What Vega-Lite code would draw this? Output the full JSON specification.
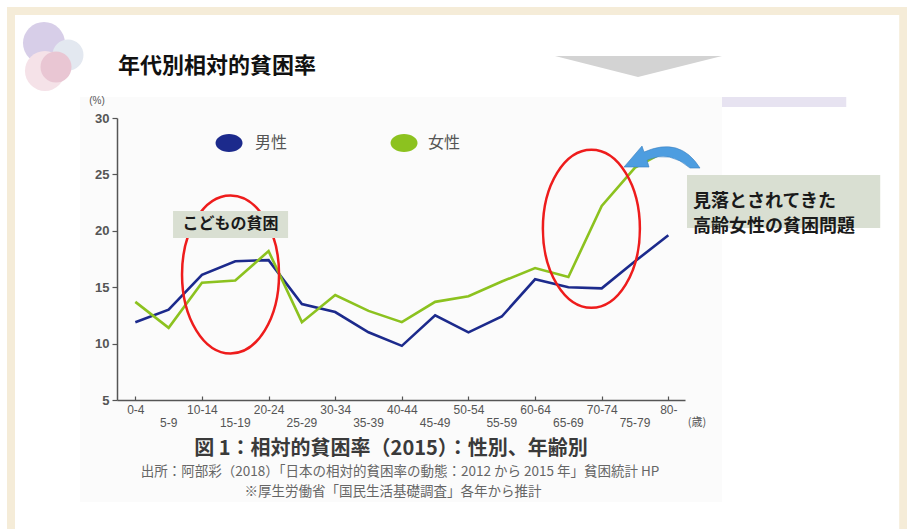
{
  "$schema": "https://vega.github.io/schema/vega-lite/v6.json",
  "width": 568,
  "height": 282,
  "autosize": {"type": "none"},
  "padding": {"left": 117, "top": 118, "right": 222, "bottom": 129},
  "background": "#ffffff",
  "config": {"view": {"stroke": null}, "font": "Noto Sans CJK JP"},
  "datasets": {
    "rates": [
      {"age": "0-4", "age_index": 0, "sex": "男性", "rate": 11.9},
      {"age": "5-9", "age_index": 1, "sex": "男性", "rate": 13.0},
      {"age": "10-14", "age_index": 2, "sex": "男性", "rate": 16.1},
      {"age": "15-19", "age_index": 3, "sex": "男性", "rate": 17.3},
      {"age": "20-24", "age_index": 4, "sex": "男性", "rate": 17.4},
      {"age": "25-29", "age_index": 5, "sex": "男性", "rate": 13.5},
      {"age": "30-34", "age_index": 6, "sex": "男性", "rate": 12.8},
      {"age": "35-39", "age_index": 7, "sex": "男性", "rate": 11.0},
      {"age": "40-44", "age_index": 8, "sex": "男性", "rate": 9.8},
      {"age": "45-49", "age_index": 9, "sex": "男性", "rate": 12.5},
      {"age": "50-54", "age_index": 10, "sex": "男性", "rate": 11.0},
      {"age": "55-59", "age_index": 11, "sex": "男性", "rate": 12.4},
      {"age": "60-64", "age_index": 12, "sex": "男性", "rate": 15.7},
      {"age": "65-69", "age_index": 13, "sex": "男性", "rate": 15.0},
      {"age": "70-74", "age_index": 14, "sex": "男性", "rate": 14.9},
      {"age": "75-79", "age_index": 15, "sex": "男性", "rate": 17.3},
      {"age": "80-", "age_index": 16, "sex": "男性", "rate": 19.6},
      {"age": "0-4", "age_index": 0, "sex": "女性", "rate": 13.7},
      {"age": "5-9", "age_index": 1, "sex": "女性", "rate": 11.4},
      {"age": "10-14", "age_index": 2, "sex": "女性", "rate": 15.4},
      {"age": "15-19", "age_index": 3, "sex": "女性", "rate": 15.6},
      {"age": "20-24", "age_index": 4, "sex": "女性", "rate": 18.2},
      {"age": "25-29", "age_index": 5, "sex": "女性", "rate": 11.9},
      {"age": "30-34", "age_index": 6, "sex": "女性", "rate": 14.3},
      {"age": "35-39", "age_index": 7, "sex": "女性", "rate": 12.9},
      {"age": "40-44", "age_index": 8, "sex": "女性", "rate": 11.9},
      {"age": "45-49", "age_index": 9, "sex": "女性", "rate": 13.7},
      {"age": "50-54", "age_index": 10, "sex": "女性", "rate": 14.2},
      {"age": "55-59", "age_index": 11, "sex": "女性", "rate": 15.5},
      {"age": "60-64", "age_index": 12, "sex": "女性", "rate": 16.7},
      {"age": "65-69", "age_index": 13, "sex": "女性", "rate": 15.9},
      {"age": "70-74", "age_index": 14, "sex": "女性", "rate": 22.2},
      {"age": "75-79", "age_index": 15, "sex": "女性", "rate": 25.6},
      {"age": "80-", "age_index": 16, "sex": "女性", "rate": 27.2}
    ],
    "legend": [
      {"sex": "男性", "x": 2.813, "tx": 3.594, "y": 27.78},
      {"sex": "女性", "x": 8.066, "tx": 8.788, "y": 27.78}
    ]
  },
  "layer": [
    {
      "data": {"values": [{"x": -3.852, "x2": 24, "y": 39.84, "y2": -8}]},
      "mark": {"type": "rect", "fill": "#f5ecd8"},
      "encoding": {
        "x": {"field": "x", "type": "quantitative", "title": null, "scale": {"domain": [-0.55, 16.5], "nice": false, "zero": false}},
        "x2": {"field": "x2"},
        "y": {"field": "y", "type": "quantitative", "title": null, "scale": {"domain": [5, 30], "nice": false, "zero": false}},
        "y2": {"field": "y2"}
      }
    },
    {
      "data": {"values": [{"x": -3.612, "x2": 22.93, "y": 39.13, "y2": -8}]},
      "mark": {"type": "rect", "fill": "#ffffff"},
      "encoding": {
        "x": {"field": "x", "type": "quantitative", "title": null, "scale": {"domain": [-0.55, 16.5], "nice": false, "zero": false}},
        "x2": {"field": "x2"},
        "y": {"field": "y", "type": "quantitative", "title": null, "scale": {"domain": [5, 30], "nice": false, "zero": false}},
        "y2": {"field": "y2"}
      }
    },
    {
      "data": {"values": [{"x": -1.66, "x2": 17.61, "y": 31.86, "y2": -4.04}]},
      "mark": {"type": "rect", "fill": "#fbfbfb"},
      "encoding": {
        "x": {"field": "x", "type": "quantitative", "title": null, "scale": {"domain": [-0.55, 16.5], "nice": false, "zero": false}},
        "x2": {"field": "x2"},
        "y": {"field": "y", "type": "quantitative", "title": null, "scale": {"domain": [5, 30], "nice": false, "zero": false}},
        "y2": {"field": "y2"}
      }
    },
    {
      "data": {"values": [{"x": 17.61, "x2": 21.34, "y": 31.86, "y2": 30.98}]},
      "mark": {"type": "rect", "fill": "#e7e3f1"},
      "encoding": {
        "x": {"field": "x", "type": "quantitative", "title": null, "scale": {"domain": [-0.55, 16.5], "nice": false, "zero": false}},
        "x2": {"field": "x2"},
        "y": {"field": "y", "type": "quantitative", "title": null, "scale": {"domain": [5, 30], "nice": false, "zero": false}},
        "y2": {"field": "y2"}
      }
    },
    {
      "data": {"values": [{"x": 15.09, "y": 34.96}]},
      "mark": {"type": "point", "shape": "M -83 -6 L 84 -6 L 0 15 Z", "size": 4, "filled": true, "fill": "#d3d3d3", "opacity": 1, "strokeWidth": 0},
      "encoding": {
        "x": {"field": "x", "type": "quantitative", "title": null, "scale": {"domain": [-0.55, 16.5], "nice": false, "zero": false}},
        "y": {"field": "y", "type": "quantitative", "title": null, "scale": {"domain": [5, 30], "nice": false, "zero": false}}
      }
    },
    {
      "data": {"values": [{"x": -2.742, "y": 36.65}]},
      "mark": {"type": "point", "shape": "circle", "size": 1764, "filled": true, "fill": "#d7cee8", "opacity": 1, "strokeWidth": 0},
      "encoding": {
        "x": {"field": "x", "type": "quantitative", "title": null, "scale": {"domain": [-0.55, 16.5], "nice": false, "zero": false}},
        "y": {"field": "y", "type": "quantitative", "title": null, "scale": {"domain": [5, 30], "nice": false, "zero": false}}
      }
    },
    {
      "data": {"values": [{"x": -2.021, "y": 35.59}]},
      "mark": {"type": "point", "shape": "circle", "size": 961, "filled": true, "fill": "#e3e8f0", "opacity": 1, "strokeWidth": 0},
      "encoding": {
        "x": {"field": "x", "type": "quantitative", "title": null, "scale": {"domain": [-0.55, 16.5], "nice": false, "zero": false}},
        "y": {"field": "y", "type": "quantitative", "title": null, "scale": {"domain": [5, 30], "nice": false, "zero": false}}
      }
    },
    {
      "data": {"values": [{"x": -2.712, "y": 34.17}]},
      "mark": {"type": "point", "shape": "circle", "size": 1600, "filled": true, "fill": "#f5e2e8", "opacity": 1, "strokeWidth": 0},
      "encoding": {
        "x": {"field": "x", "type": "quantitative", "title": null, "scale": {"domain": [-0.55, 16.5], "nice": false, "zero": false}},
        "y": {"field": "y", "type": "quantitative", "title": null, "scale": {"domain": [5, 30], "nice": false, "zero": false}}
      }
    },
    {
      "data": {"values": [{"x": -2.381, "y": 34.52}]},
      "mark": {"type": "point", "shape": "circle", "size": 961, "filled": true, "fill": "#e9c6d3", "opacity": 1, "strokeWidth": 0},
      "encoding": {
        "x": {"field": "x", "type": "quantitative", "title": null, "scale": {"domain": [-0.55, 16.5], "nice": false, "zero": false}},
        "y": {"field": "y", "type": "quantitative", "title": null, "scale": {"domain": [5, 30], "nice": false, "zero": false}}
      }
    },
    {
      "data": {"values": [{"x": -0.52, "y": 34.61, "text": "年代別相対的貧困率"}]},
      "mark": {"type": "text", "align": "left", "baseline": "middle", "fontSize": 22, "fontWeight": "bold", "color": "#111111", "font": "Noto Sans CJK JP"},
      "encoding": {
        "x": {"field": "x", "type": "quantitative", "title": null, "scale": {"domain": [-0.55, 16.5], "nice": false, "zero": false}},
        "y": {"field": "y", "type": "quantitative", "title": null, "scale": {"domain": [5, 30], "nice": false, "zero": false}},
        "text": {"field": "text"}
      }
    },
    {
      "data": {"values": [{"x": -1.149, "y": 31.51, "text": "(%)"}]},
      "mark": {"type": "text", "align": "center", "baseline": "middle", "fontSize": 10, "color": "#555555", "font": "Liberation Sans"},
      "encoding": {
        "x": {"field": "x", "type": "quantitative", "title": null, "scale": {"domain": [-0.55, 16.5], "nice": false, "zero": false}},
        "y": {"field": "y", "type": "quantitative", "title": null, "scale": {"domain": [5, 30], "nice": false, "zero": false}},
        "text": {"field": "text"}
      }
    },
    {
      "data": {"name": "rates"},
      "mark": {"type": "line", "strokeWidth": 2.6},
      "encoding": {
        "x": {
          "field": "age_index", "type": "quantitative", "title": null,
          "scale": {"domain": [-0.55, 16.5], "nice": false, "zero": false},
          "axis": {
            "title": null, "grid": false, "zindex": 1,
            "values": [0, 1, 2, 3, 4, 5, 6, 7, 8, 9, 10, 11, 12, 13, 14, 15, 16],
            "labelExpr": "datum.value % 2 == 0 ? ['0-4','5-9','10-14','15-19','20-24','25-29','30-34','35-39','40-44','45-49','50-54','55-59','60-64','65-69','70-74','75-79','80-'][datum.value] : ''",
            "domainColor": "#555555", "domainWidth": 1.5,
            "tickColor": "#555555", "tickSize": -4, "tickWidth": 1.2,
            "labelColor": "#555555", "labelFontSize": 12, "labelFont": "Liberation Sans",
            "labelPadding": 8, "labelBaseline": "top",
            "labelFlush": false, "labelOverlap": false, "labelBound": false
          }
        },
        "y": {
          "field": "rate", "type": "quantitative", "title": null,
          "scale": {"domain": [5, 30], "nice": false, "zero": false},
          "axis": {
            "title": null, "grid": false, "zindex": 1, "values": [5, 10, 15, 20, 25, 30],
            "domainColor": "#555555", "domainWidth": 1.5,
            "tickColor": "#555555", "tickSize": 5, "tickWidth": 1.2,
            "labelColor": "#555555", "labelFontSize": 13, "labelFont": "Liberation Sans",
            "labelFontWeight": "bold", "labelPadding": 3
          }
        },
        "color": {"field": "sex", "type": "nominal", "scale": {"domain": ["男性", "女性"], "range": ["#1c2a8c", "#8cc21f"]}, "legend": null},
        "detail": {"field": "sex"}
      }
    },
    {
      "data": {"name": "rates"},
      "transform": [{"filter": "datum.sex == '男性' && datum.age_index % 2 == 1"}],
      "mark": {"type": "text", "align": "center", "baseline": "middle", "fontSize": 12, "color": "#555555", "font": "Liberation Sans"},
      "encoding": {
        "x": {"field": "age_index", "type": "quantitative", "title": null, "scale": {"domain": [-0.55, 16.5], "nice": false, "zero": false}},
        "y": {"datum": 3.0, "type": "quantitative", "title": null, "scale": {"domain": [5, 30], "nice": false, "zero": false}},
        "text": {"field": "age"}
      }
    },
    {
      "data": {"values": [{"x": 2.858, "y": 16.13}, {"x": 13.69, "y": 20.18}]},
      "mark": {"type": "point", "shape": "M 0.614 0 C 0.614 0.552 0.339 1 0 1 C -0.339 1 -0.614 0.552 -0.614 0 C -0.614 -0.552 -0.339 -1 0 -1 C 0.339 -1 0.614 -0.552 0.614 0 Z", "size": 24964, "filled": false, "stroke": "#ee1c1c", "strokeWidth": 2.5, "opacity": 1},
      "encoding": {
        "x": {"field": "x", "type": "quantitative", "title": null, "scale": {"domain": [-0.55, 16.5], "nice": false, "zero": false}},
        "y": {"field": "y", "type": "quantitative", "title": null, "scale": {"domain": [5, 30], "nice": false, "zero": false}}
      }
    },
    {
      "data": {"name": "legend"},
      "mark": {"type": "point", "shape": "M 1 0 C 1 0.368 0.552 0.667 0 0.667 C -0.552 0.667 -1 0.368 -1 0 C -1 -0.368 -0.552 -0.667 0 -0.667 C 0.552 -0.667 1 -0.368 1 0 Z", "size": 729, "filled": true, "opacity": 1, "strokeWidth": 0},
      "encoding": {
        "x": {"field": "x", "type": "quantitative", "title": null, "scale": {"domain": [-0.55, 16.5], "nice": false, "zero": false}},
        "y": {"field": "y", "type": "quantitative", "title": null, "scale": {"domain": [5, 30], "nice": false, "zero": false}},
        "color": {"field": "sex", "type": "nominal", "scale": {"domain": ["男性", "女性"], "range": ["#1c2a8c", "#8cc21f"]}, "legend": null}
      }
    },
    {
      "data": {"name": "legend"},
      "mark": {"type": "text", "align": "left", "baseline": "middle", "fontSize": 16, "color": "#555555", "font": "Noto Sans CJK JP"},
      "encoding": {
        "x": {"field": "tx", "type": "quantitative", "title": null, "scale": {"domain": [-0.55, 16.5], "nice": false, "zero": false}},
        "y": {"field": "y", "type": "quantitative", "title": null, "scale": {"domain": [5, 30], "nice": false, "zero": false}},
        "text": {"field": "sex"}
      }
    },
    {
      "data": {"values": [{"x": 1.132, "x2": 4.585, "y": 21.76, "y2": 19.36}]},
      "mark": {"type": "rect", "fill": "#d9dfd2"},
      "encoding": {
        "x": {"field": "x", "type": "quantitative", "title": null, "scale": {"domain": [-0.55, 16.5], "nice": false, "zero": false}},
        "x2": {"field": "x2"},
        "y": {"field": "y", "type": "quantitative", "title": null, "scale": {"domain": [5, 30], "nice": false, "zero": false}},
        "y2": {"field": "y2"}
      }
    },
    {
      "data": {"values": [{"x": 2.858, "y": 20.56, "text": "こどもの貧困"}]},
      "mark": {"type": "text", "align": "center", "baseline": "middle", "fontSize": 16, "fontWeight": "bold", "color": "#1a1a1a", "font": "Noto Sans CJK JP"},
      "encoding": {
        "x": {"field": "x", "type": "quantitative", "title": null, "scale": {"domain": [-0.55, 16.5], "nice": false, "zero": false}},
        "y": {"field": "y", "type": "quantitative", "title": null, "scale": {"domain": [5, 30], "nice": false, "zero": false}},
        "text": {"field": "text"}
      }
    },
    {
      "data": {"values": [{"x": 16.56, "x2": 22.36, "y": 24.95, "y2": 20.25}]},
      "mark": {"type": "rect", "fill": "#d9dfd2"},
      "encoding": {
        "x": {"field": "x", "type": "quantitative", "title": null, "scale": {"domain": [-0.55, 16.5], "nice": false, "zero": false}},
        "x2": {"field": "x2"},
        "y": {"field": "y", "type": "quantitative", "title": null, "scale": {"domain": [5, 30], "nice": false, "zero": false}},
        "y2": {"field": "y2"}
      }
    },
    {
      "data": {"values": [{"x": 16.74, "y": 22.55, "text": "見落とされてきた\n高齢女性の貧困問題"}]},
      "mark": {"type": "text", "align": "left", "baseline": "middle", "fontSize": 18, "fontWeight": "bold", "color": "#1a1a1a", "font": "Noto Sans CJK JP", "lineBreak": "\n", "lineHeight": 25},
      "encoding": {
        "x": {"field": "x", "type": "quantitative", "title": null, "scale": {"domain": [-0.55, 16.5], "nice": false, "zero": false}},
        "y": {"field": "y", "type": "quantitative", "title": null, "scale": {"domain": [5, 30], "nice": false, "zero": false}},
        "text": {"field": "text"}
      }
    },
    {
      "data": {"values": [{"x": 15.81, "y": 26.45}]},
      "mark": {"type": "point", "shape": "M -38 9 L -20 -12 L -18 -6 Q 18 -22 38 10 L 28 10 Q 8 -8 -15 2 L -13 9 Z", "size": 4, "filled": true, "fill": "#4d9de0", "stroke": "#3a7fc0", "strokeWidth": 0.6, "opacity": 1},
      "encoding": {
        "x": {"field": "x", "type": "quantitative", "title": null, "scale": {"domain": [-0.55, 16.5], "nice": false, "zero": false}},
        "y": {"field": "y", "type": "quantitative", "title": null, "scale": {"domain": [5, 30], "nice": false, "zero": false}}
      }
    },
    {
      "data": {"values": [{"x": 16.86, "y": 3.0, "text": "(歳)"}]},
      "mark": {"type": "text", "align": "center", "baseline": "middle", "fontSize": 11, "color": "#555555", "font": "Noto Sans CJK JP"},
      "encoding": {
        "x": {"field": "x", "type": "quantitative", "title": null, "scale": {"domain": [-0.55, 16.5], "nice": false, "zero": false}},
        "y": {"field": "y", "type": "quantitative", "title": null, "scale": {"domain": [5, 30], "nice": false, "zero": false}},
        "text": {"field": "text"}
      }
    },
    {
      "data": {"values": [{"x": 7.676, "y": 0.66, "text": "図 1：相対的貧困率（2015）：性別、年齢別"}]},
      "mark": {"type": "text", "align": "center", "baseline": "middle", "fontSize": 20, "fontWeight": "bold", "color": "#3a3a3a", "font": "Noto Sans CJK JP"},
      "encoding": {
        "x": {"field": "x", "type": "quantitative", "title": null, "scale": {"domain": [-0.55, 16.5], "nice": false, "zero": false}},
        "y": {"field": "y", "type": "quantitative", "title": null, "scale": {"domain": [5, 30], "nice": false, "zero": false}},
        "text": {"field": "text"}
      }
    },
    {
      "data": {"values": [
        {"x": 7.946, "y": -1.42, "text": "出所：阿部彩（2018）「日本の相対的貧困率の動態：2012 から 2015 年」貧困統計 HP"},
        {"x": 7.736, "y": -3.15, "text": "※厚生労働省「国民生活基礎調査」各年から推計"}
      ]},
      "mark": {"type": "text", "align": "center", "baseline": "middle", "fontSize": 13.5, "color": "#666666", "font": "Noto Sans CJK JP"},
      "encoding": {
        "x": {"field": "x", "type": "quantitative", "title": null, "scale": {"domain": [-0.55, 16.5], "nice": false, "zero": false}},
        "y": {"field": "y", "type": "quantitative", "title": null, "scale": {"domain": [5, 30], "nice": false, "zero": false}},
        "text": {"field": "text"}
      }
    }
  ]
}
